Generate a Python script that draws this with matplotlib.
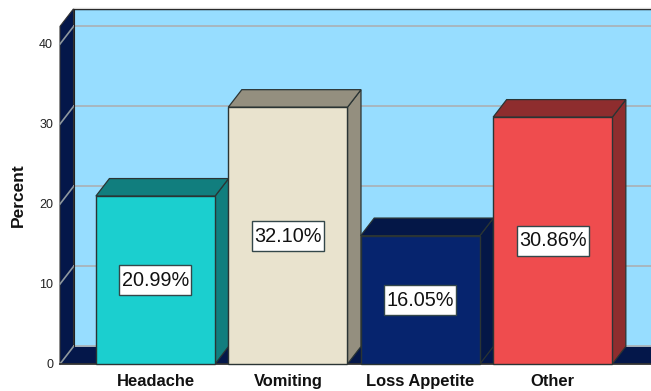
import matplotlib
matplotlib.use("Agg")
import matplotlib.pyplot as plt
from matplotlib.patches import Polygon, Rectangle

plt.rcParams['font.family'] = ['Liberation Sans', 'DejaVu Sans']

categories = ["Headache", "Vomiting", "Loss Appetite", "Other"]
percents = [20.99, 32.10, 16.05, 30.86]
y_ticks = [0, 10, 20, 30, 40]

front_colors = ["#1BCFCF", "#E9E3CE", "#06246E", "#EF4C4E"]
shade_colors = ["#117E7E", "#948F7F", "#041747", "#8E2D2E"]
wall_color = "#97DDFF"
navy = "#04174A"
grid_color = "#A9B4BA"

# box depth, bar width and label box size in data units
dx = 0.102
dy = 2.19
bar_w = 0.90
wall_top = 44.4
box_w = 0.544
box_h = 3.75

W, H = 651, 391
fig = plt.figure(figsize=(W / 100, H / 100), dpi=100)
ax = fig.add_axes([60 / W, (H - 364) / H, (W - 60) / W, 320 / H])
x_min, x_max = -0.721, 3.742
ax.set_xlim(x_min, x_max)
ax.set_ylim(0, 40)
for s in ax.spines.values():
    s.set_visible(False)
ax.patch.set_visible(False)


def poly(pts, fc, ec="none", lw=0.0, z=1):
    ax.add_patch(Polygon(pts, closed=True, facecolor=fc, edgecolor=ec, linewidth=lw,
                         zorder=z, clip_on=False, joinstyle="miter"))


# back wall, left wall and floor
right = x_max + 0.01
poly([(x_min + dx, dy), (right, dy), (right, wall_top), (x_min + dx, wall_top)], wall_color, z=1)
poly([(x_min, 0), (x_min + dx, dy), (x_min + dx, wall_top), (x_min, wall_top - dy)], navy, ec="#333333", lw=0.8, z=2)
poly([(x_min, 0), (x_min + dx, dy), (right + dx, dy), (right, 0)], navy, z=2)

# gridlines run along the back wall then down the left wall
for t in y_ticks:
    ax.plot([x_min + dx, right], [t + dy, t + dy], color=grid_color, lw=1.3, zorder=2.5, clip_on=False)
    ax.plot([x_min, x_min + dx], [t, t + dy], color="#8F989E", lw=1.2, zorder=3, clip_on=False)

ax.plot([x_min + dx, right], [wall_top, wall_top], color="black", lw=1.0, zorder=3, clip_on=False)
ax.plot([x_min + dx, right], [wall_top + 0.14, wall_top + 0.14], color="#D8D8D8", lw=1.0, zorder=3, clip_on=False)
ax.plot([x_min + dx, x_min + dx], [dy, wall_top], color="#222222", lw=0.8, zorder=3, clip_on=False)

# bars as 3D boxes
edge = "#2A3434"
for i, v in enumerate(percents):
    l, r = i - bar_w / 2, i + bar_w / 2
    poly([(r, 0), (r + dx, dy), (r + dx, v + dy), (r, v)], shade_colors[i], ec=edge, lw=0.9, z=4)
    poly([(l, v), (r, v), (r + dx, v + dy), (l + dx, v + dy)], shade_colors[i], ec=edge, lw=0.9, z=4)
    poly([(l, 0), (r, 0), (r, v), (l, v)], front_colors[i], ec=edge, lw=1.0, z=5)
    ax.add_patch(Rectangle((i - box_w / 2, v / 2 - box_h / 2), box_w, box_h, facecolor="white",
                           edgecolor="#33474A", linewidth=1.0, zorder=6))
    ax.text(i, v / 2 - 0.05, f"{v:.2f}%", ha="center", va="center", fontsize=14.3, color="#111111", zorder=7)

ax.plot([x_min, right], [0, 0], color="#333333", lw=1.3, zorder=4.5, clip_on=False)

ax.set_xticks(range(len(categories)))
ax.set_xticklabels(categories, fontsize=11.9, fontweight="bold", color="#111111")
ax.set_yticks(y_ticks)
ax.tick_params(axis="x", length=0, pad=7)
ax.tick_params(axis="y", length=0, pad=5, labelsize=9, labelcolor="#222222")
fig.text(18 / W, (H - 195) / H, "Percent", rotation=90, ha="center", va="center",
         fontsize=12.5, fontweight="bold", color="#111111")

fig.savefig("out.png", dpi=100)
